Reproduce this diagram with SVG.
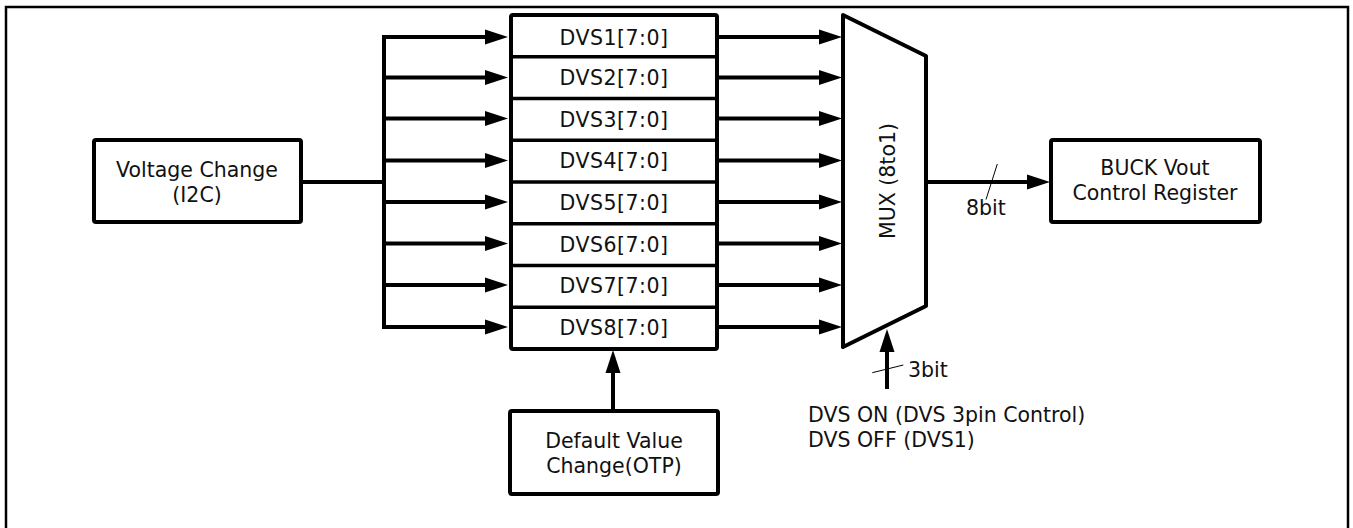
<svg xmlns="http://www.w3.org/2000/svg" width="1353" height="528" viewBox="0 0 1353 528">
<style>
.box{fill:#fff;stroke:#000;stroke-width:4;stroke-linejoin:round}
.div{stroke:#000;stroke-width:3.5}
.t{font-family:"DejaVu Sans",Verdana,sans-serif;font-size:20.5px;fill:#111}
.c{text-anchor:middle}
.r{letter-spacing:0.5px}
.w{stroke:#000;stroke-width:4;fill:none}
.thin{stroke:#000;stroke-width:1;fill:none}
</style>
<defs>
<marker id="ah" markerUnits="userSpaceOnUse" markerWidth="23" markerHeight="16" refX="0" refY="8" orient="auto">
<path d="M0,0.5 L23,8 L0,15.5 z" fill="#000"/>
</marker>
</defs>
<rect x="6" y="7" width="1342" height="600" fill="#fff" stroke="#000" stroke-width="2.5"/>

<g id="voltage">
<rect class="box" x="94" y="140" width="207" height="82" rx="2"/>
<text class="t c" x="197" y="177">Voltage Change</text>
<text class="t c" x="197" y="202">(I2C)</text>
</g>

<g id="dvs-registers">
<rect class="box" x="511" y="15" width="206" height="334" rx="2"/>
<line class="div" x1="511" y1="56.75" x2="717" y2="56.75"/>
<line class="div" x1="511" y1="98.5" x2="717" y2="98.5"/>
<line class="div" x1="511" y1="140.25" x2="717" y2="140.25"/>
<line class="div" x1="511" y1="182" x2="717" y2="182"/>
<line class="div" x1="511" y1="223.75" x2="717" y2="223.75"/>
<line class="div" x1="511" y1="265.5" x2="717" y2="265.5"/>
<line class="div" x1="511" y1="307.25" x2="717" y2="307.25"/>
<text class="t c r" x="614" y="45">DVS1[7:0]</text>
<text class="t c r" x="614" y="85">DVS2[7:0]</text>
<text class="t c r" x="614" y="126.5">DVS3[7:0]</text>
<text class="t c r" x="614" y="168">DVS4[7:0]</text>
<text class="t c r" x="614" y="210">DVS5[7:0]</text>
<text class="t c r" x="614" y="252">DVS6[7:0]</text>
<text class="t c r" x="614" y="293">DVS7[7:0]</text>
<text class="t c r" x="614" y="335">DVS8[7:0]</text>
</g>

<g id="mux">
<polygon class="box" points="843,15 926,56 926,306 843,347"/>
<text class="t c" transform="translate(895,181) rotate(-90)">MUX (8to1)</text>
</g>

<g id="buck">
<rect class="box" x="1051" y="140" width="209" height="82" rx="2"/>
<text class="t c" x="1155" y="175">BUCK Vout</text>
<text class="t c" x="1155" y="200">Control Register</text>
</g>

<g id="default">
<rect class="box" x="510" y="411" width="208" height="83" rx="2"/>
<text class="t c" x="614" y="448">Default Value</text>
<text class="t c" x="614" y="473">Change(OTP)</text>
</g>

<g id="dvs-control-label">
<text class="t" x="808" y="422">DVS ON (DVS 3pin Control)</text>
<text class="t" x="808" y="447">DVS OFF (DVS1)</text>
</g>

<g id="connectors">
<line class="w" x1="301" y1="182" x2="386" y2="182"/>
<line class="w" x1="384" y1="35" x2="384" y2="329"/>
<line class="w" x1="382" y1="37" x2="485" y2="37" marker-end="url(#ah)"/>
<line class="w" x1="382" y1="77.5" x2="485" y2="77.5" marker-end="url(#ah)"/>
<line class="w" x1="382" y1="118.5" x2="485" y2="118.5" marker-end="url(#ah)"/>
<line class="w" x1="382" y1="160.5" x2="485" y2="160.5" marker-end="url(#ah)"/>
<line class="w" x1="382" y1="202" x2="485" y2="202" marker-end="url(#ah)"/>
<line class="w" x1="382" y1="243.5" x2="485" y2="243.5" marker-end="url(#ah)"/>
<line class="w" x1="382" y1="285" x2="485" y2="285" marker-end="url(#ah)"/>
<line class="w" x1="382" y1="327" x2="485" y2="327" marker-end="url(#ah)"/>

<line class="w" x1="717" y1="37" x2="819" y2="37" marker-end="url(#ah)"/>
<line class="w" x1="717" y1="77.5" x2="819" y2="77.5" marker-end="url(#ah)"/>
<line class="w" x1="717" y1="118.5" x2="819" y2="118.5" marker-end="url(#ah)"/>
<line class="w" x1="717" y1="160.5" x2="819" y2="160.5" marker-end="url(#ah)"/>
<line class="w" x1="717" y1="202" x2="819" y2="202" marker-end="url(#ah)"/>
<line class="w" x1="717" y1="243.5" x2="819" y2="243.5" marker-end="url(#ah)"/>
<line class="w" x1="717" y1="285" x2="819" y2="285" marker-end="url(#ah)"/>
<line class="w" x1="717" y1="327" x2="819" y2="327" marker-end="url(#ah)"/>

<line class="w" x1="926" y1="182" x2="1027" y2="182" marker-end="url(#ah)"/>
<line class="thin" x1="997.3" y1="164" x2="986" y2="199.5"/>
<text class="t" x="966" y="215">8bit</text>

<line class="w" x1="613" y1="411" x2="613" y2="373" marker-end="url(#ah)"/>

<line class="w" x1="887" y1="389" x2="887" y2="352" marker-end="url(#ah)"/>
<line class="thin" x1="872.3" y1="372.7" x2="903.3" y2="365"/>
<text class="t" x="908" y="377">3bit</text>
</g>
</svg>
